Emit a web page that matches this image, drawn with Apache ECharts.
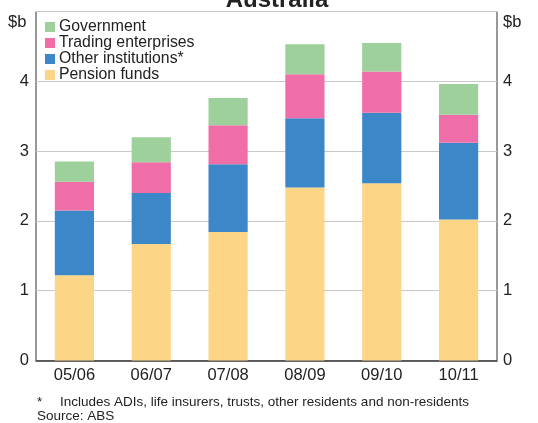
<!DOCTYPE html>
<html><head><meta charset="utf-8">
<script src="https://cdn.jsdelivr.net/npm/echarts@6/dist/echarts.min.js"></script>
<style>html,body{margin:0;padding:0;background:#fff}#c{width:538px;height:423px}</style>
</head><body><div id="c"></div>
<script>
const categories = ['05/06','06/07','07/08','08/09','09/10','10/11'];
const pension = [1.22, 1.67, 1.84, 2.48, 2.54, 2.02];
const other = [0.93, 0.73, 0.97, 0.99, 1.01, 1.10];
const trading = [0.41, 0.44, 0.56, 0.63, 0.59, 0.40];
const government = [0.29, 0.36, 0.39, 0.43, 0.41, 0.44];
const yTicks = [0, 1, 2, 3, 4, 5];

const FONT = 'Liberation Sans, Arial, sans-serif';
const chart = echarts.init(document.getElementById('c'), null, {renderer:'canvas'});
const yAxisBase = (pos) => ({
  type:'value', position:pos, min:yTicks[0], max:yTicks[yTicks.length-1], interval:1,
  axisLine:{show:false}, axisTick:{show:false},
  splitLine:{show:pos==='left', lineStyle:{color:'#c8c8c8', width:1}},
  axisLabel:{color:'#222', fontSize:16.5, fontFamily:FONT, margin:pos==='left'?7:6,
    formatter:v => v===5 ? '' : String(v)}
});
chart.setOption({
  animation:false,
  textStyle:{fontFamily:FONT},
  title:{text:'Australia', left:272, textAlign:'center', top:-17, textStyle:{fontSize:24, fontWeight:'bold', color:'#222', fontFamily:FONT}},
  grid:{left:36, right:41, top:11.5, bottom:62.5, show:true, borderColor:'#333', borderWidth:1, backgroundColor:'transparent'},
  legend:{
    orient:'vertical', left:40, top:18, itemWidth:10, itemHeight:10, itemGap:0, padding:[1,5,1,5],
    data:['Government','Trading enterprises','Other institutions*','Pension funds'],
    textStyle:{fontSize:15.8, lineHeight:16, color:'#222', fontFamily:FONT, padding:[0,0,0,-1]},
    icon:'rect'
  },
  xAxis:{type:'category', data:categories,
    axisLine:{lineStyle:{color:'#333', width:1.5}},
    axisTick:{inside:true, length:6, lineStyle:{color:'#333'}},
    axisLabel:{color:'#222', fontSize:16.5, fontFamily:FONT, margin:6}
  },
  yAxis:[yAxisBase('left'), yAxisBase('right')],
  series:[
    {name:'Pension funds', type:'bar', stack:'a', data:pension, barWidth:'51%', itemStyle:{color:'#fdd587'}},
    {name:'Other institutions*', type:'bar', stack:'a', data:other, itemStyle:{color:'#3b87c8'}},
    {name:'Trading enterprises', type:'bar', stack:'a', data:trading, itemStyle:{color:'#f06ea8'}},
    {name:'Government', type:'bar', stack:'a', data:government, itemStyle:{color:'#9dd09b'}}
  ],
  graphic:[
    {type:'text', left:8, top:14, style:{text:'$b', fontSize:16.5, fill:'#222', fontFamily:FONT}},
    {type:'text', left:503, top:14, style:{text:'$b', fontSize:16.5, fill:'#222', fontFamily:FONT}},
    {type:'text', left:37, top:395, style:{text:'*', fontSize:13.5, fill:'#222', fontFamily:FONT}},
    {type:'text', left:60, top:395, style:{text:'Includes ADIs, life insurers, trusts, other residents and non-residents', fontSize:13.5, fill:'#222', fontFamily:FONT}},
    {type:'text', left:37, top:409.5, style:{text:'Source: ABS', fontSize:13.5, fill:'#222', fontFamily:FONT}}
  ]
});
</script></body></html>
